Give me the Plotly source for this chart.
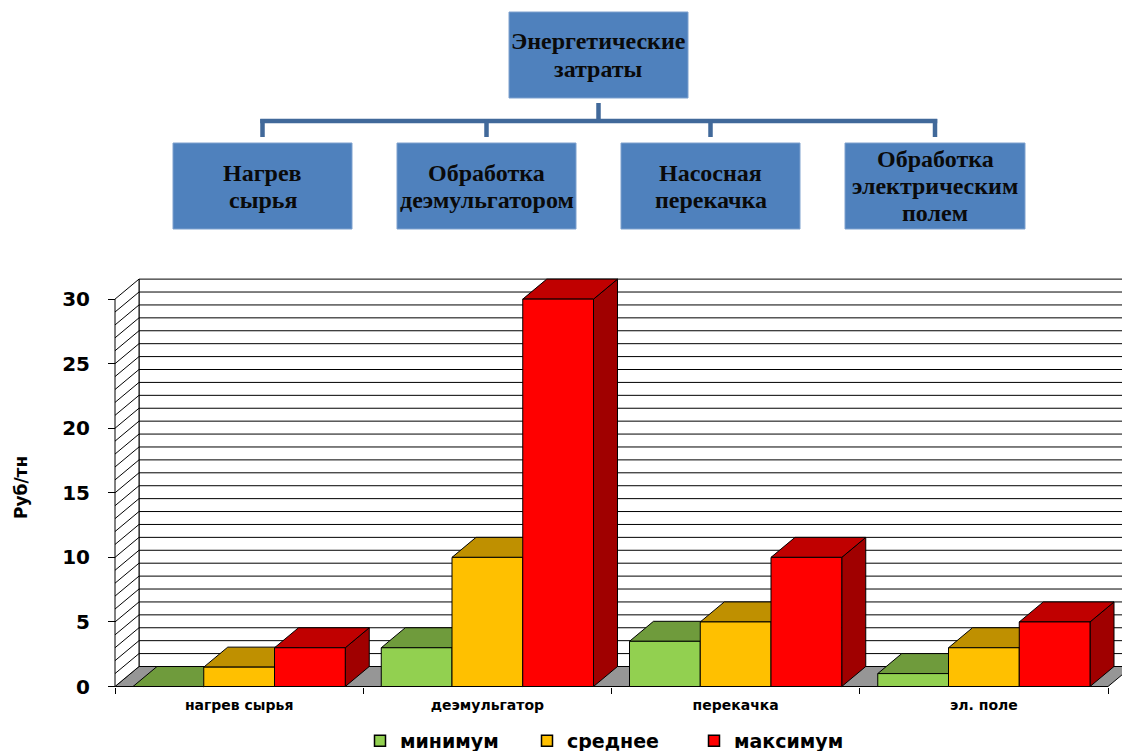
import plotly.graph_objects as go

# ---- data -------------------------------------------------------------
categories = ["нагрев сырья", "деэмульгатор", "перекачка", "эл. поле"]
series_names = ["минимум", "среднее", "максимум"]
minimum = [0, 3, 3.5, 1]
average = [1.5, 10, 5, 3]
maximum = [3, 30, 10, 5]
y_ticks = [0, 5, 10, 15, 20, 25, 30]

root_label = ["Энергетические", "затраты"]
branch_labels = [["Нагрев", "сырья"],
                 ["Обработка", "деэмульгатором"],
                 ["Насосная", "перекачка"],
                 ["Обработка", "электрическим", "полем"]]

# ---- styling ----------------------------------------------------------
front_colors = ["#92D050", "#FFC000", "#FF0000"]
top_colors = ["#6F9B3C", "#BF9000", "#C00000"]
side_colors = ["#5A7F30", "#9F7800", "#A00000"]
floor_color = "#969696"
box_fill = "#4F81BD"
box_edge = "#7EA1CE"
connector_color = "#41699A"

W, H = 1122, 751
L, R, T, B = 105, 0, 276, 58
plot_w = W - L - R
plot_h = H - T - B
ppx = 248.25          # pixels per category
ppy = 12.913          # pixels per value unit
axis_px = 115         # pixel column of the value axis
zero_px = 686.5       # pixel row of value 0

x_min = -(axis_px - L) / ppx
x_max = x_min + plot_w / ppx
y_min = -((H - B) - zero_px) / ppy
y_max = y_min + plot_h / ppy

depth_x = 24 / ppx
depth_y = 20 / ppy
bar_w = 0.285
pad = (1 - 3 * bar_w) / 2
wall_top = max(y_ticks)


def pxx(px):
    return (px - L) / plot_w


def pxy(py):
    return ((H - B) - py) / plot_h


fig = go.Figure()


def poly(xs, ys, fill, width=1):
    fig.add_trace(go.Scatter(
        x=xs + [xs[0]], y=ys + [ys[0]], mode="lines", fill="toself",
        fillcolor=fill, line=dict(color="black", width=width),
        showlegend=False, hoverinfo="skip"))


def segments(pairs, width=1):
    xs, ys = [], []
    for (a, b), (c, d) in pairs:
        xs += [a, c, None]
        ys += [b, d, None]
    fig.add_trace(go.Scatter(x=xs, y=ys, mode="lines",
                             line=dict(color="black", width=width),
                             showlegend=False, hoverinfo="skip"))


# back wall with a line for every unit
wall_lines = [((depth_x, v + depth_y), (x_max + 1, v + depth_y))
              for v in range(0, wall_top + 1)]
wall_lines.append(((depth_x, depth_y), (depth_x, wall_top + depth_y)))
segments(wall_lines)

# floor
n = len(categories)
poly([0, n, n + depth_x, depth_x], [0, 0, depth_y, depth_y], floor_color)

# side wall with slanted unit lines
poly([0, 0, depth_x, depth_x], [0, wall_top, wall_top + depth_y, depth_y], "white")
segments([((0, v), (depth_x, v + depth_y)) for v in range(1, wall_top)])

# 3-D bars: side face, top face, then front face, left to right
series = [minimum, average, maximum]
for i in range(n):
    for s, vals in enumerate(series):
        v = vals[i]
        x0 = i + pad + s * bar_w
        x1 = x0 + bar_w
        poly([x1, x1 + depth_x, x1 + depth_x, x1],
             [0, depth_y, v + depth_y, v], side_colors[s])
        poly([x0, x1, x1 + depth_x, x0 + depth_x],
             [v, v, v + depth_y, v + depth_y], top_colors[s])
        poly([x0, x1, x1, x0], [0, 0, v, v], front_colors[s])

# legend entries
for s, name in enumerate(series_names):
    fig.add_trace(go.Scatter(
        x=[None], y=[None], mode="markers", name=name,
        marker=dict(symbol="square", size=11, color=front_colors[s],
                    line=dict(color="black", width=1.5))))

# ---- org chart above the plot -----------------------------------------
shapes = []
annotations = []
LINE_STEP = 27


def box(x0, y0, x1, y1, lines, size=24):
    shapes.append(dict(type="rect", xref="paper", yref="paper",
                       x0=pxx(x0), x1=pxx(x1), y0=pxy(y1), y1=pxy(y0),
                       fillcolor=box_fill, line=dict(color=box_edge, width=1),
                       layer="above"))
    cy = (y0 + y1) / 2
    first = cy - LINE_STEP * (len(lines) - 1) / 2
    for k, txt in enumerate(lines):
        annotations.append(dict(xref="paper", yref="paper",
                                x=pxx((x0 + x1) / 2),
                                y=pxy(first + k * LINE_STEP),
                                text=txt, showarrow=False,
                                xanchor="center", yanchor="middle",
                                font=dict(family="Liberation Serif", size=size,
                                          color="#0A0A0A", weight=700)))


def link(x0, y0, x1, y1):
    shapes.append(dict(type="line", xref="paper", yref="paper",
                       x0=pxx(x0), x1=pxx(x1), y0=pxy(y0), y1=pxy(y1),
                       line=dict(color=connector_color, width=4.5),
                       layer="above"))


box(509, 12, 688, 98, root_label)
branch_x = [(173, 352), (397, 576), (621, 800), (845, 1025)]
drops = [(a + b) / 2 for a, b in branch_x]
link(598.5, 103, 598.5, 121)
link(drops[0] - 2.25, 121, drops[-1] + 2.25, 121)
for (a, b), lbl, d in zip(branch_x, branch_labels, drops):
    link(d, 119, d, 137)
    box(a, 143, b, 229, lbl)

# value axis title
annotations.append(dict(xref="paper", yref="paper", x=pxx(21), y=pxy(488),
                        text="Руб/тн", textangle=-90, showarrow=False,
                        xanchor="center", yanchor="middle",
                        font=dict(family="DejaVu Sans", size=17,
                                  color="black", weight=700)))

fig.update_layout(
    width=W, height=H, autosize=False,
    margin=dict(l=L, r=R, t=T, b=B, pad=0, autoexpand=False),
    paper_bgcolor="white", plot_bgcolor="white",
    shapes=shapes, annotations=annotations,
    showlegend=True,
    legend=dict(orientation="h", x=pxx(360), xanchor="left",
                y=pxy(741), yanchor="middle",
                entrywidth=122, entrywidthmode="pixels",
                font=dict(family="DejaVu Sans", size=19, color="black",
                          weight=700),
                bgcolor="rgba(0,0,0,0)", borderwidth=0),
    xaxis=dict(range=[x_min, x_max], showgrid=False, zeroline=False,
               showline=False, tickvals=[i + 0.5 for i in range(n)],
               ticktext=categories, ticks="", automargin=False,
               tickfont=dict(family="DejaVu Sans", size=14, color="black",
                             weight=700),
               ticklabelstandoff=8,
               minor=dict(tickvals=list(range(n + 1)), ticks="outside",
                          ticklen=6, tickcolor="black", tickwidth=1,
                          showgrid=False),
               anchor="free", position=(0 - y_min) / (y_max - y_min),
               fixedrange=True),
    yaxis=dict(range=[y_min, y_max], showgrid=False, zeroline=False,
               showline=False, tickvals=y_ticks, ticks="outside",
               ticklen=7, tickcolor="black", tickwidth=1, automargin=False,
               tickfont=dict(family="DejaVu Sans", size=20, color="black",
                             weight=700),
               ticklabelstandoff=14,
               anchor="free", position=(0 - x_min) / (x_max - x_min),
               fixedrange=True),
)

fig.write_html("out.html")
